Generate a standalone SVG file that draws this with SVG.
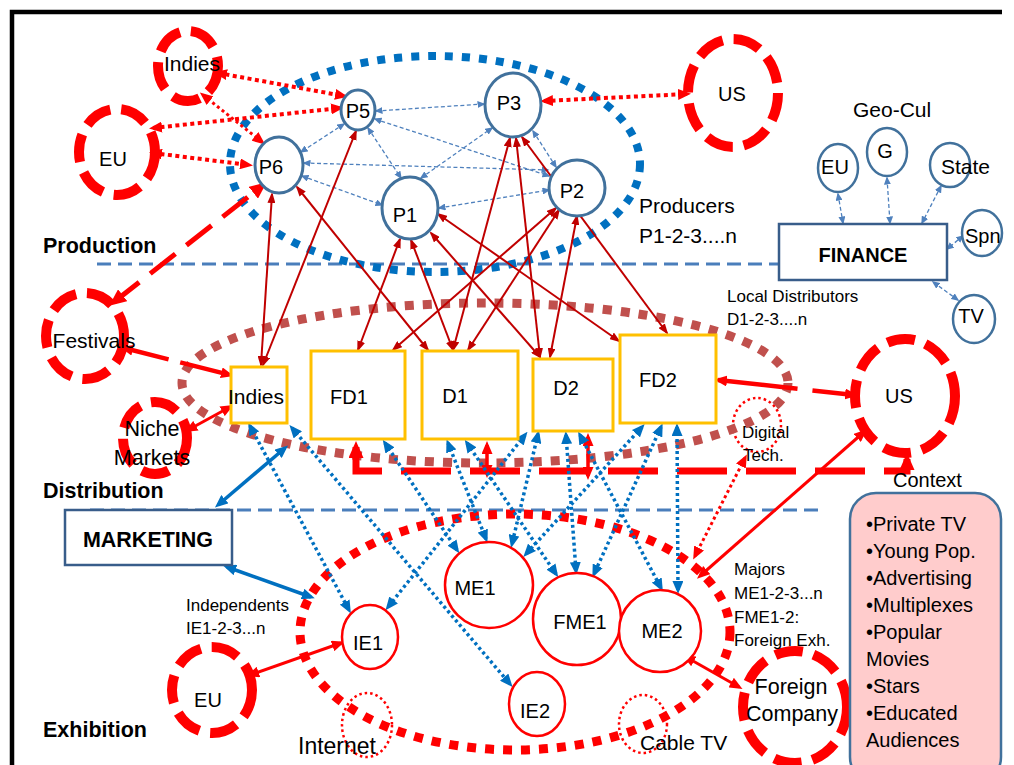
<svg xmlns="http://www.w3.org/2000/svg" width="1014" height="765" viewBox="0 0 1014 765">
<defs>
<style>
text{font-family:"Liberation Sans",Arial,sans-serif;font-size:20px;fill:#000}
.c{text-anchor:middle}
.b{font-weight:bold;font-size:21.5px}
.s{font-size:17px}
.pn{fill:#fff;stroke:#41719C;stroke-width:3}
.gc{fill:#fff;stroke:#41719C;stroke-width:2.5}
.ctx{fill:none;stroke:#FF0000;stroke-width:10;stroke-dasharray:28 11}
.box{fill:#fff;stroke:#FFC000;stroke-width:3}
.ex{fill:#fff;stroke:#FF0000;stroke-width:2.5}
.sm{fill:none;stroke:#FF0000;stroke-width:2.5;stroke-dasharray:2.5 3}
.tier{fill:none;stroke:#4A7EBB;stroke-width:3;stroke-dasharray:14 7}
.pl{fill:none;stroke:#4F81BD;stroke-width:1.3;stroke-dasharray:4 2.5;marker-start:url(#aS);marker-end:url(#aS)}
.dr{fill:none;stroke:#C00000;stroke-width:2;marker-start:url(#aD);marker-end:url(#aD)}
.bdot{fill:none;stroke:#0070C0;stroke-width:3.5;stroke-dasharray:3 3;marker-start:url(#aB);marker-end:url(#aB)}
.bsol{fill:none;stroke:#0070C0;stroke-width:3.5;marker-start:url(#aB);marker-end:url(#aB)}
.rdot{fill:none;stroke:#FF0000;stroke-width:4;stroke-dasharray:4 3.5;marker-start:url(#aR);marker-end:url(#aR)}
.rsol{fill:none;stroke:#FF0000;stroke-width:3;marker-start:url(#aR);marker-end:url(#aR)}
.rdash{fill:none;stroke:#FF0000;stroke-width:4.5;marker-start:url(#aR);marker-end:url(#aR)}
.rbig{fill:none;stroke:#FF0000;marker-start:url(#aRL);marker-end:url(#aRL)}
</style>
<marker id="aS" viewBox="0 0 8 7" refX="6.5" refY="3.5" markerWidth="8" markerHeight="7" markerUnits="userSpaceOnUse" orient="auto-start-reverse"><path d="M0,0L8,3.5L0,7z" fill="#4F81BD"/></marker>
<marker id="aD" viewBox="0 0 11 8" refX="9" refY="4" markerWidth="11" markerHeight="8" markerUnits="userSpaceOnUse" orient="auto-start-reverse"><path d="M0,0L11,4L0,8z" fill="#C00000"/></marker>
<marker id="aB" viewBox="0 0 13 11" refX="9" refY="5.5" markerWidth="13" markerHeight="11" markerUnits="userSpaceOnUse" orient="auto-start-reverse"><path d="M0,0L13,5.5L0,11z" fill="#0070C0"/></marker>
<marker id="aR" viewBox="0 0 13 11" refX="9" refY="5.5" markerWidth="13" markerHeight="11" markerUnits="userSpaceOnUse" orient="auto-start-reverse"><path d="M0,0L13,5.5L0,11z" fill="#FF0000"/></marker>
<marker id="aRL" viewBox="0 0 17 15" refX="11" refY="7.5" markerWidth="17" markerHeight="15" markerUnits="userSpaceOnUse" orient="auto-start-reverse"><path d="M0,0L17,7.5L0,15z" fill="#FF0000"/></marker>
</defs>

<rect width="1014" height="765" fill="#fff"/>
<!-- slide frame -->
<path d="M12,770V12H1002" fill="none" stroke="#000" stroke-width="4.5"/>

<!-- tier separators -->
<g id="tiers">
<line class="tier" x1="97" y1="264" x2="779" y2="264"/>
<line class="tier" x1="90" y1="510" x2="818" y2="510"/>
<text class="b" x="43" y="253">Production</text>
<text class="b" x="43" y="498">Distribution</text>
<text class="b" x="43" y="737">Exhibition</text>
</g>

<!-- small context rings -->
<g id="digital-tech"><ellipse class="sm" cx="757" cy="425" rx="24" ry="27"/><text class="s" x="742" y="438">Digital</text><text class="s" x="743" y="461">Tech.</text></g>
<g id="internet"><ellipse class="sm" cx="367" cy="725" rx="25" ry="32"/><text x="298" y="754" style="font-size:23px">Internet</text></g>
<g id="cable-tv"><ellipse class="sm" cx="643" cy="724" rx="24" ry="29"/><text x="640" y="750" style="font-size:21px">Cable TV</text></g>

<!-- sector groupings -->
<g id="sectors">
<ellipse cx="435" cy="164" rx="205" ry="108" fill="none" stroke="#0070C0" stroke-width="8" stroke-dasharray="8 9"/>
<ellipse cx="485" cy="383" rx="303" ry="80" fill="none" stroke="#C0504D" stroke-width="9" stroke-dasharray="9 9"/>
<ellipse cx="515" cy="632" rx="215" ry="118" fill="none" stroke="#FF0000" stroke-width="9" stroke-dasharray="9 9"/>
</g>

<g id="connectors">
<!-- producer network -->
<line class="pl" x1="376" y1="111" x2="484" y2="104"/>
<line class="pl" x1="344" y1="124" x2="301" y2="152"/>
<line class="pl" x1="368" y1="128" x2="401" y2="178"/>
<line class="pl" x1="375" y1="119" x2="549" y2="176"/>
<line class="pl" x1="304" y1="163" x2="548" y2="170"/>
<line class="pl" x1="302" y1="176" x2="382" y2="205"/>
<line class="pl" x1="421" y1="178" x2="492" y2="128"/>
<line class="pl" x1="533" y1="131" x2="556" y2="167"/>
<line class="pl" x1="439" y1="208" x2="549" y2="190"/>
<!-- finance sources -->
<line class="pl" x1="838" y1="194" x2="843" y2="223"/>
<line class="pl" x1="887" y1="178" x2="890" y2="223"/>
<line class="pl" x1="941" y1="186" x2="922" y2="223"/>
<line class="pl" x1="963" y1="236" x2="947" y2="249"/>
<line class="pl" x1="958" y1="300" x2="933" y2="282"/>
<!-- producers to distributors -->
<line class="dr" x1="272" y1="194" x2="261" y2="365"/>
<line class="dr" x1="356" y1="131" x2="263" y2="365"/>
<line class="dr" x1="297" y1="187" x2="428" y2="350"/>
<line class="dr" x1="400" y1="239" x2="358" y2="350"/>
<line class="dr" x1="411" y1="240" x2="453" y2="350"/>
<line class="dr" x1="431" y1="233" x2="540" y2="357"/>
<line class="dr" x1="438" y1="214" x2="619" y2="341"/>
<line class="dr" x1="556" y1="208" x2="393" y2="350"/>
<line class="dr" x1="559" y1="210" x2="468" y2="350"/>
<line class="dr" x1="577" y1="216" x2="550" y2="357"/>
<line class="dr" x1="510" y1="138" x2="453" y2="350"/>
<line class="dr" x1="516" y1="138" x2="540" y2="357"/>
<line class="dr" x1="522" y1="137" x2="667" y2="333"/>
<!-- outside producers -->
<line class="rdot" x1="218" y1="73" x2="344" y2="96"/>
<line class="rdot" x1="153" y1="128" x2="340" y2="108"/>
<line class="rdot" x1="153" y1="153" x2="249" y2="165"/>
<line class="rdot" x1="544" y1="101" x2="687" y2="94"/>
<line class="rdot" style="stroke-width:3;stroke-dasharray:3 3" x1="203" y1="95" x2="262" y2="142"/>
<line class="rbig" style="stroke-width:5;stroke-dasharray:32 14" x1="114" y1="302" x2="262" y2="186"/>
<!-- distribution context -->
<line class="rdash" style="stroke-dasharray:46 12" x1="124" y1="348" x2="230" y2="375"/>
<line class="rsol" x1="188" y1="430" x2="230" y2="407"/>
<line class="rdash" style="stroke-dasharray:80 15" x1="718" y1="380" x2="854" y2="395"/>
<path class="rbig" style="stroke-width:7;stroke-dasharray:50 19" d="M356,447V471H907V459"/>
<line class="rsol" style="stroke-width:3.5" x1="487" y1="474" x2="487" y2="445"/>
<line class="rsol" style="stroke-width:3.5" x1="588" y1="476" x2="588" y2="437"/>
<!-- marketing -->
<line class="bsol" x1="218" y1="505" x2="285" y2="448"/>
<line class="bsol" x1="227" y1="567" x2="311" y2="597"/>
<!-- distributors to exhibitors -->
<line class="bdot" x1="250" y1="426" x2="349" y2="610"/>
<line class="bdot" x1="292" y1="428" x2="510" y2="684"/>
<line class="bdot" x1="385" y1="443" x2="457" y2="550"/>
<line class="bdot" x1="448" y1="443" x2="486" y2="539"/>
<line class="bdot" x1="467" y1="443" x2="556" y2="574"/>
<line class="bdot" x1="525" y1="435" x2="388" y2="607"/>
<line class="bdot" x1="538" y1="434" x2="512" y2="544"/>
<line class="bdot" x1="566" y1="435" x2="576" y2="571"/>
<line class="bdot" x1="580" y1="435" x2="661" y2="588"/>
<line class="bdot" x1="642" y1="427" x2="526" y2="554"/>
<line class="bdot" x1="661" y1="427" x2="594" y2="574"/>
<line class="bdot" x1="677" y1="427" x2="678" y2="590"/>
<!-- exhibition context -->
<line class="rsol" x1="250" y1="675" x2="341" y2="643"/>
<line class="rsol" x1="686" y1="657" x2="739" y2="687"/>
<line class="rsol" x1="864" y1="432" x2="700" y2="576"/>
<line class="rdot" style="stroke-width:3;stroke-dasharray:3 3" x1="745" y1="458" x2="695" y2="556"/>
</g>

<!-- producers -->
<g id="P5"><ellipse class="pn" cx="358" cy="110" rx="17" ry="20"/><text class="c" x="358" y="118">P5</text></g>
<g id="P6"><ellipse class="pn" cx="279" cy="165" rx="24" ry="28"/><text class="c" x="271" y="174">P6</text></g>
<g id="P3"><ellipse class="pn" cx="513" cy="105" rx="28" ry="32"/><text class="c" x="509" y="110">P3</text></g>
<g id="P2"><ellipse class="pn" cx="577" cy="188" rx="28" ry="28"/><text class="c" x="572" y="198">P2</text></g>
<g id="P1"><ellipse class="pn" cx="410" cy="208" rx="28" ry="31"/><text class="c" x="405" y="222">P1</text></g>
<g id="producers-note"><text x="639" y="213" style="font-size:21px">Producers</text><text x="639" y="243" style="font-size:21px">P1-2-3....n</text></g>

<!-- outside markets -->
<g id="indies-src"><ellipse class="ctx" cx="188" cy="66" rx="30" ry="35"/><text class="c" x="192" y="71" style="font-size:21px">Indies</text></g>
<g id="eu-src"><ellipse class="ctx" cx="117" cy="152" rx="38" ry="43"/><text class="c" x="113" y="166">EU</text></g>
<g id="us-src"><ellipse class="ctx" cx="733" cy="93" rx="45" ry="54"/><text class="c" x="732" y="101">US</text></g>
<g id="festivals"><ellipse class="ctx" cx="85" cy="336" rx="39" ry="43"/><text class="c" x="94" y="348" style="font-size:21px">Festivals</text></g>
<g id="niche"><ellipse class="ctx" cx="155" cy="438" rx="32" ry="36"/><text class="c" x="152" y="436" style="font-size:21.5px">Niche</text><text class="c" x="152" y="465" style="font-size:21.5px">Markets</text></g>
<g id="us-mkt"><ellipse class="ctx" cx="905" cy="396" rx="50" ry="57"/><text class="c" x="899" y="403">US</text></g>
<g id="eu-exh"><ellipse class="ctx" cx="212" cy="690" rx="40" ry="43"/><text class="c" x="208" y="707">EU</text></g>
<g id="foreign-co"><ellipse class="ctx" cx="795" cy="707" rx="52" ry="56"/><text class="c" x="791" y="694" style="font-size:21.5px">Foreign</text><text class="c" x="792" y="721" style="font-size:21.5px">Company</text></g>

<!-- finance -->
<g id="finance"><rect x="779" y="224" width="168" height="56" fill="#fff" stroke="#385D8A" stroke-width="2.5"/><text class="c b" x="863" y="262" style="font-size:20px">FINANCE</text></g>
<g id="geo-cul"><text x="853" y="117" style="font-size:21px">Geo-Cul</text></g>
<g id="f-eu"><ellipse class="gc" cx="838" cy="168" rx="20" ry="24"/><text class="c" x="835" y="174">EU</text></g>
<g id="f-g"><ellipse class="gc" cx="887" cy="152" rx="20" ry="24"/><text class="c" x="885" y="158">G</text></g>
<g id="f-state"><ellipse class="gc" cx="950" cy="165" rx="20" ry="22"/><text x="941" y="174" style="font-size:21px">State</text></g>
<g id="f-spn"><ellipse class="gc" cx="982" cy="233" rx="20" ry="23"/><text x="965" y="243">Spn</text></g>
<g id="f-tv"><ellipse class="gc" cx="974" cy="319" rx="21" ry="24"/><text class="c" x="971" y="323">TV</text></g>

<!-- distributors -->
<g id="distributors-note"><text class="s" x="727" y="302">Local Distributors</text><text class="s" x="727" y="325">D1-2-3....n</text></g>
<g id="indies-dist"><rect class="box" x="231" y="367" width="56" height="56"/><text class="c" x="256" y="404" style="font-size:21px">Indies</text></g>
<g id="FD1"><rect class="box" x="311" y="351" width="94" height="88"/><text class="c" x="349" y="404">FD1</text></g>
<g id="D1"><rect class="box" x="422" y="351" width="96" height="88"/><text class="c" x="455" y="403">D1</text></g>
<g id="D2"><rect class="box" x="533" y="359" width="80" height="72"/><text class="c" x="566" y="395">D2</text></g>
<g id="FD2"><rect class="box" x="620" y="335" width="96" height="88"/><text class="c" x="658" y="387">FD2</text></g>

<!-- marketing -->
<g id="marketing"><rect x="65" y="510" width="167" height="55" fill="#fff" stroke="#385D8A" stroke-width="2.5"/><text class="c b" x="148" y="547">MARKETING</text></g>

<!-- exhibitors -->
<g id="ME1"><ellipse class="ex" cx="489" cy="585" rx="44" ry="43"/><text class="c" x="475" y="595">ME1</text></g>
<g id="FME1"><ellipse class="ex" cx="577" cy="619" rx="44" ry="46"/><text class="c" x="580" y="629">FME1</text></g>
<g id="ME2"><ellipse class="ex" cx="660" cy="631" rx="41" ry="41"/><text class="c" x="662" y="638">ME2</text></g>
<g id="IE1"><ellipse class="ex" cx="370" cy="637" rx="28" ry="32"/><text class="c" x="368" y="650">IE1</text></g>
<g id="IE2"><ellipse class="ex" cx="537" cy="704" rx="28" ry="32"/><text class="c" x="535" y="718">IE2</text></g>
<g id="independents-note"><text class="s" x="186" y="611">Independents</text><text class="s" x="186" y="634">IE1-2-3...n</text></g>
<g id="majors-note"><text class="s" x="734" y="575">Majors</text><text class="s" x="734" y="599">ME1-2-3...n</text><text class="s" x="734" y="623">FME1-2:</text><text class="s" x="734" y="646">Foreign Exh.</text></g>

<!-- context panel -->
<g id="context">
<text x="893" y="487">Context</text>
<rect x="850" y="493" width="151" height="290" rx="26" fill="#FFCCCC" stroke="#41719C" stroke-width="2.5"/>
<text x="866" y="531">•Private TV</text>
<text x="866" y="558">•Young Pop.</text>
<text x="866" y="585">•Advertising</text>
<text x="866" y="612">•Multiplexes</text>
<text x="866" y="639">•Popular</text>
<text x="866" y="666">Movies</text>
<text x="866" y="693">•Stars</text>
<text x="866" y="720">•Educated</text>
<text x="866" y="747">Audiences</text>
</g>
</svg>
